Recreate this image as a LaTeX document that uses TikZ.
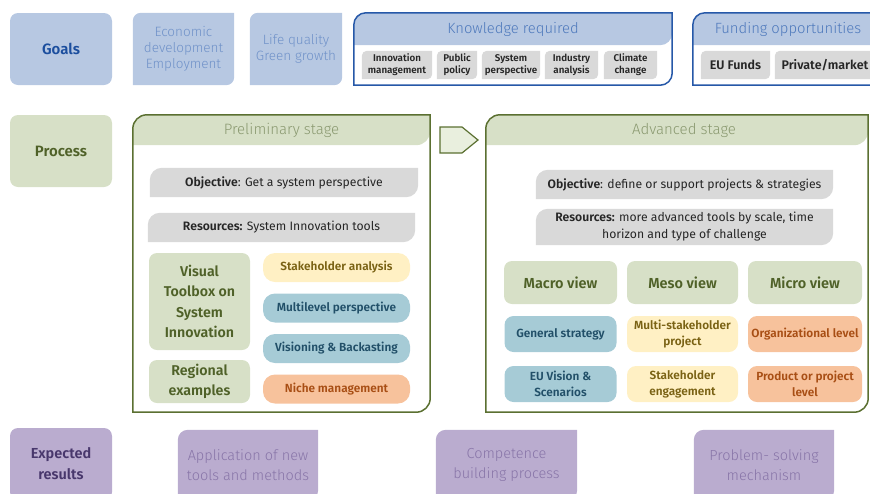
\documentclass[tikz,border=0pt]{standalone}
\usepackage{fontspec}
\setmainfont{Fira Sans}[BoldFont={Fira Sans SemiBold}]
\newfontfamily\thinfont{Fira Sans Light}
\usetikzlibrary{calc}
\usetikzlibrary{backgrounds}

\definecolor{goalfill}{RGB}{183,200,226}
\definecolor{goaldark}{RGB}{27,78,158}
\definecolor{goallight}{RGB}{112,146,201}
\definecolor{boxblue}{RGB}{38,88,168}
\definecolor{headblue}{RGB}{78,121,188}
\definecolor{chipgrey}{RGB}{217,217,217}
\definecolor{inkgrey}{RGB}{38,38,38}
\definecolor{greenfill}{RGB}{215,224,199}
\definecolor{greendark}{RGB}{79,97,40}
\definecolor{stageline}{RGB}{91,112,49}
\definecolor{stagetext}{RGB}{138,153,112}
\definecolor{arrowfill}{RGB}{233,239,222}
\definecolor{yellowfill}{RGB}{255,240,196}
\definecolor{yellowtext}{RGB}{122,98,20}
\definecolor{tealfill}{RGB}{166,203,214}
\definecolor{tealtext}{RGB}{33,79,104}
\definecolor{orangefill}{RGB}{247,194,156}
\definecolor{orangetext}{RGB}{168,78,20}
\definecolor{purplefill}{RGB}{186,172,207}
\definecolor{purpledark}{RGB}{72,55,108}
\definecolor{purplelight}{RGB}{136,117,168}

% box with rounded top left and bottom right corners
\newcommand{\leaf}[3][8]{%
  \path[#3] (#2.south west) -- ($(#2.north west)+(0,-#1pt)$)
    arc[start angle=180,end angle=90,radius=#1pt] -- (#2.north east)
    -- ($(#2.south east)+(0,#1pt)$)
    arc[start angle=0,end angle=-90,radius=#1pt] -- cycle;}

\begin{document}
\begin{tikzpicture}[
  x=1pt, y=1pt,
  every node/.style = {inner sep=0pt, align=center},
  sz/.style 2 args = {minimum width=#1pt, minimum height=#2pt},
  rowhead/.style = {rounded corners=8pt, font=\bfseries\fontsize{15}{21}\selectfont},
  goalitem/.style = {text=goallight, font=\thinfont\fontsize{13.5}{16}\selectfont},
  boxhead/.style = {text=headblue, font=\thinfont\fontsize{14.8}{20}\selectfont},
  chip/.style = {text=inkgrey, font=\bfseries\fontsize{9.8}{12}\selectfont},
  bigchip/.style = {text=inkgrey, font=\bfseries\fontsize{12.5}{15}\selectfont},
  stagehead/.style = {text=stagetext, font=\thinfont\fontsize{15}{20}\selectfont},
  bar/.style = {text=inkgrey, font=\fontsize{12.2}{17}\selectfont},
  greenbox/.style = {fill=greenfill, rounded corners=8pt, text=greendark, font=\bfseries\fontsize{14.2}{20.3}\selectfont},
  pill/.style 2 args = {fill=#1, text=#2, rounded corners=12pt, font=\bfseries\fontsize{11.8}{13}\selectfont},
  tile/.style 2 args = {fill=#1, text=#2, rounded corners=9pt, font=\bfseries\fontsize{11.8}{16}\selectfont},
  resultitem/.style = {text=purplelight, font=\thinfont\fontsize{14.5}{20}\selectfont},
  outline/.style = {draw=#1, line width=1.5pt}
  ]
	\useasboundingbox (0,0) rectangle (870,-493);

	% goals
	\node[rowhead, sz={102}{72}, fill=goalfill, text=goaldark] (goals) at (61,-49) {Goals};
	\node[goalitem, sz={101}{72}] (econ) at (183.5,-49) {Economic\\development\\Employment};
	\node[goalitem, sz={92}{72}] (life) at (296,-49) {Life quality\\Green growth};

	\node[sz={318}{72}] (know) at (513,-49) {};
	\node[boxhead, sz={318}{32}] (knowhead) at (513,-29) {Knowledge required};
	\node[chip, sz={70}{28}] (innov) at (397,-65) {Innovation\\management};
	\node[chip, sz={40}{28}] (policy) at (457,-65) {Public\\policy};
	\node[chip, sz={58}{28}] (sysper) at (511,-65) {System\\perspective};
	\node[chip, sz={53}{28}] (industry) at (571.5,-65) {Industry\\analysis};
	\node[chip, sz={53}{28}] (climate) at (630.5,-65) {Climate\\change};

	\node[sz={190}{72}] (fund) at (788,-49) {};
	\node[boxhead, sz={190}{32}] (fundhead) at (788,-29) {Funding opportunities};
	\node[bigchip, sz={69}{28}] (eufunds) at (735.5,-65) {EU Funds};
	\node[bigchip, sz={100}{28}] (private) at (825,-65) {Private/market};

	% process
	\node[rowhead, sz={102}{72}, fill=greenfill, text=greendark] (process) at (61,-151) {Process};

	\node[sz={297}{297}] (prelim) at (281.5,-263.5) {};
	\node[stagehead, sz={297}{30}] (prelimhead) at (281.5,-130) {Preliminary stage};
	\node[bar, sz={268}{29}] (pobj) at (284,-182.5) {\textbf{Objective}: Get a system perspective};
	\node[bar, sz={267}{29}] (pres) at (281.5,-227.5) {\textbf{Resources:} System Innovation tools};
	\node[greenbox, sz={101}{97}] (toolbox) at (199.5,-301.5) {Visual\\Toolbox on\\System\\Innovation};
	\node[greenbox, sz={101}{43}] (regional) at (199.5,-381.5) {Regional\\examples};
	\node[pill={yellowfill}{yellowtext}, sz={147}{29}] (stake) at (336.5,-267.5) {Stakeholder analysis};
	\node[pill={tealfill}{tealtext}, sz={147}{29}] (multilevel) at (336.5,-308) {Multilevel perspective};
	\node[pill={tealfill}{tealtext}, sz={147}{29}] (vision) at (336.5,-348.5) {Visioning \& Backasting};
	\node[pill={orangefill}{orangetext}, sz={147}{29}] (niche) at (336.5,-389) {Niche management};

	\draw[outline=stageline, line width=1.2pt, fill=arrowfill, line join=miter]
		(440,-127) -- (462,-127) -- (478,-140) -- (462,-153) -- (440,-153) -- cycle;

	\node[sz={382}{297}] (adv) at (677,-263.5) {};
	\node[stagehead, sz={382}{30}] (advhead) at (677,-130) {\hspace*{14pt}Advanced stage};
	\node[bar, sz={297}{29}] (aobj) at (684.5,-184.5) {\textbf{Objective}: define or support projects \& strategies};
	\node[bar, sz={297}{36}] (ares) at (684.5,-227) {\textbf{Resources:} more advanced tools by scale, time\\horizon and type of challenge};
	\node[greenbox, sz={113}{43}, font=\bfseries\fontsize{14.5}{18}\selectfont] (macro) at (560.5,-282.5) {Macro view};
	\node[greenbox, sz={111}{43}, font=\bfseries\fontsize{14.5}{18}\selectfont] (meso) at (682.5,-282.5) {Meso view};
	\node[greenbox, sz={114}{43}, font=\bfseries\fontsize{14.5}{18}\selectfont] (micro) at (805,-282.5) {Micro view};
	\node[tile={tealfill}{tealtext}, sz={112}{36}] (general) at (560.5,-334) {General strategy};
	\node[tile={yellowfill}{yellowtext}, sz={111}{36}] (multistake) at (682.5,-334) {Multi-stakeholder\\project};
	\node[tile={orangefill}{orangetext}, sz={114}{36}] (orglevel) at (805,-334) {Organizational level};
	\node[tile={tealfill}{tealtext}, sz={112}{36}] (euvision) at (560.5,-384) {EU Vision \&\\Scenarios};
	\node[tile={yellowfill}{yellowtext}, sz={111}{36}] (engage) at (682.5,-384) {Stakeholder\\engagement};
	\node[tile={orangefill}{orangetext}, sz={114}{36}] (prodlevel) at (805,-384) {Product or project\\level};

	% expected results
	\node[rowhead, sz={102}{72}, fill=purplefill, text=purpledark, font=\bfseries\fontsize{14.5}{21}\selectfont] (expected) at (61,-464) {Expected\\results};
	\node[resultitem, sz={140}{70}] (apply) at (248,-465) {Application of new\\tools and methods};
	\node[resultitem, sz={141}{70}] (compet) at (506.5,-465) {Competence\\building process};
	\node[resultitem, sz={140}{70}] (problem) at (764,-465) {Problem- solving\\mechanism};

	\begin{scope}[on background layer]
		\leaf{econ}{fill=goalfill}
		\leaf{life}{fill=goalfill}
		\leaf[12]{knowhead}{fill=goalfill}
		\leaf[12]{fundhead}{fill=goalfill}
		\foreach \c in {innov,policy,sysper,industry,climate,eufunds,private}
			{\leaf[5]{\c}{fill=chipgrey}}
		\leaf[14]{prelimhead}{fill=greenfill}
		\leaf[14]{advhead}{fill=greenfill}
		\foreach \c in {pobj,pres,aobj,ares}
			{\leaf[12]{\c}{fill=chipgrey}}
		\foreach \c in {apply,compet,problem}
			{\leaf[10]{\c}{fill=purplefill}}
	\end{scope}

	\leaf[12]{know}{outline=boxblue}
	\leaf[12]{fund}{outline=boxblue}
	\leaf[14]{prelim}{outline=stageline}
	\leaf[14]{adv}{outline=stageline}

\end{tikzpicture}
\end{document}
